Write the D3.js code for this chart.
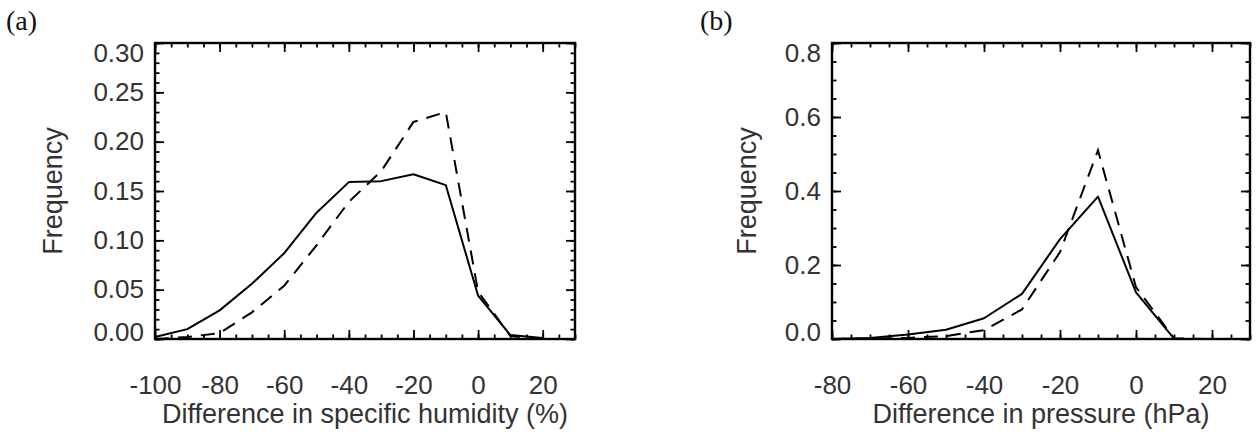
<!DOCTYPE html>
<html>
<head>
<meta charset="utf-8">
<script src="https://cdn.jsdelivr.net/npm/d3@7"></script>
<style>
  html, body { margin: 0; padding: 0; background: #fff; }
  svg { display: block; }
</style>
</head>
<body>
<svg id="chart" width="1257" height="436"></svg>
<script>
// ---------- data ----------
const xA = [-100, -90, -80, -70, -60, -50, -40, -30, -20, -10, 0, 10, 20];
const solidA = [0.002, 0.010, 0.029, 0.056, 0.087, 0.128, 0.159, 0.160, 0.167, 0.156, 0.044, 0.004, 0.001];
const dashedA = [0.000, 0.002, 0.006, 0.027, 0.054, 0.095, 0.139, 0.170, 0.220, 0.230, 0.048, 0.003, 0.000];

const xB = [-80, -70, -60, -50, -40, -30, -20, -10, 0, 10, 20];
const solidB = [0.000, 0.003, 0.012, 0.025, 0.056, 0.122, 0.270, 0.385, 0.126, 0.001, 0.000];
const dashedB = [0.000, 0.001, 0.003, 0.008, 0.024, 0.080, 0.235, 0.510, 0.140, 0.002, 0.000];

const xTicksA = [-100, -80, -60, -40, -20, 0, 20];
const yTicksA = [0.00, 0.05, 0.10, 0.15, 0.20, 0.25, 0.30];
const xTicksB = [-80, -60, -40, -20, 0, 20];
const yTicksB = [0.0, 0.2, 0.4, 0.6, 0.8];

const panelLabels = ["(a)", "(b)"];
const xTitles = ["Difference in specific humidity (%)", "Difference in pressure (hPa)"];
const yTitle = "Frequency";

// ---------- layout ----------
const svg = d3.select("#chart");
const FONT = "'Liberation Sans', Arial, Helvetica, sans-serif";
const TXT = "#333";

const panels = [
  {
    left: 155, right: 575, top: 43, bottom: 339,
    xDomain: [-100, 30], yDomain: [0, 0.30],
    xTicks: xTicksA, yTicks: yTicksA,
    xMinorStep: 5, yMinorStep: 0.01,
    yFmt: d => d.toFixed(2),
    x: xA, solid: solidA, dashed: dashedA,
    label: panelLabels[0], labelX: 6, xTitle: xTitles[0], yTitleX: 62
  },
  {
    left: 832, right: 1250, top: 43, bottom: 339,
    xDomain: [-80, 30], yDomain: [0, 0.8],
    xTicks: xTicksB, yTicks: yTicksB,
    xMinorStep: 5, yMinorStep: 0.05,
    yFmt: d => d.toFixed(1),
    x: xB, solid: solidB, dashed: dashedB,
    label: panelLabels[1], labelX: 700, xTitle: xTitles[1], yTitleX: 756
  }
];

function minorValues(domain, step) {
  const out = [];
  const n = Math.round((domain[1] - domain[0]) / step);
  for (let i = 0; i <= n; i++) out.push(+(domain[0] + i * step).toFixed(6));
  return out;
}

panels.forEach(p => {
  const x = d3.scaleLinear().domain(p.xDomain).range([p.left, p.right]);
  const y = d3.scaleLinear().domain(p.yDomain).range([p.bottom, p.top]);
  const g = svg.append("g");
  const W = p.right - p.left, H = p.bottom - p.top;

  const xMinor = minorValues(p.xDomain, p.xMinorStep);
  const yMinor = minorValues(p.yDomain, p.yMinorStep);

  const MAJ = 9, MIN = 4.5;

  function styleAxis(sel) {
    sel.select(".domain").remove();
    sel.selectAll(".tick line").attr("stroke", "#000").attr("stroke-width", 1.8);
    sel.selectAll(".tick text")
      .attr("fill", TXT)
      .style("font-family", FONT)
      .style("font-size", "26px");
  }

  // minor ticks (all four sides)
  g.append("g").attr("transform", `translate(0,${p.bottom})`)
    .call(d3.axisBottom(x).tickValues(xMinor).tickSize(-MIN).tickFormat("")).call(styleAxis);
  g.append("g").attr("transform", `translate(0,${p.top})`)
    .call(d3.axisTop(x).tickValues(xMinor).tickSize(-MIN).tickFormat("")).call(styleAxis);
  g.append("g").attr("transform", `translate(${p.left},0)`)
    .call(d3.axisLeft(y).tickValues(yMinor).tickSize(-MIN).tickFormat("")).call(styleAxis);
  g.append("g").attr("transform", `translate(${p.right},0)`)
    .call(d3.axisRight(y).tickValues(yMinor).tickSize(-MIN).tickFormat("")).call(styleAxis);

  // major ticks with labels (plain hyphen-minus as in the original)
  g.append("g").attr("transform", `translate(0,${p.bottom})`)
    .call(d3.axisBottom(x).tickValues(p.xTicks).tickSize(-MAJ).tickPadding(37).tickFormat(d => String(d)))
    .call(styleAxis);
  g.append("g").attr("transform", `translate(0,${p.top})`)
    .call(d3.axisTop(x).tickValues(p.xTicks).tickSize(-MAJ).tickFormat(""))
    .call(styleAxis);
  const yl = g.append("g").attr("transform", `translate(${p.left},0)`)
    .call(d3.axisLeft(y).tickValues(p.yTicks).tickSize(-MAJ).tickPadding(11).tickFormat(p.yFmt))
    .call(styleAxis);
  g.append("g").attr("transform", `translate(${p.right},0)`)
    .call(d3.axisRight(y).tickValues(p.yTicks).tickSize(-MAJ).tickFormat(""))
    .call(styleAxis);

  // keep end labels inside the frame height (as in the original)
  yl.selectAll(".tick text").attr("y", d => {
    if (Math.abs(d - p.yDomain[1]) < 1e-9) return 10;
    if (Math.abs(d - p.yDomain[0]) < 1e-9) return -7;
    return 0;
  });

  // frame
  g.append("rect")
    .attr("x", p.left).attr("y", p.top)
    .attr("width", W).attr("height", H)
    .attr("fill", "none").attr("stroke", "#000").attr("stroke-width", 2.4);

  // lines
  const line = d3.line().x(d => x(d[0])).y(d => y(d[1]));
  g.append("path")
    .datum(p.x.map((v, i) => [v, p.solid[i]]))
    .attr("d", line)
    .attr("fill", "none").attr("stroke", "#000").attr("stroke-width", 2)
    .attr("stroke-linejoin", "round");
  g.append("path")
    .datum(p.x.map((v, i) => [v, p.dashed[i]]))
    .attr("d", line)
    .attr("fill", "none").attr("stroke", "#000").attr("stroke-width", 2)
    .attr("stroke-dasharray", "14,9");

  // titles
  g.append("text")
    .attr("x", (p.left + p.right) / 2).attr("y", 423)
    .attr("text-anchor", "middle")
    .attr("fill", TXT)
    .style("font-family", FONT).style("font-size", "27px")
    .text(p.xTitle);
  g.append("text")
    .attr("transform", `translate(${p.yTitleX},${(p.top + p.bottom) / 2}) rotate(-90)`)
    .attr("text-anchor", "middle")
    .attr("fill", TXT)
    .style("font-family", FONT).style("font-size", "27px")
    .text(yTitle);
  g.append("text")
    .attr("x", p.labelX).attr("y", 30)
    .attr("fill", "#111")
    .style("font-family", "'Liberation Serif', 'Times New Roman', serif").style("font-size", "28px")
    .text(p.label);
});
</script>
</body>
</html>
